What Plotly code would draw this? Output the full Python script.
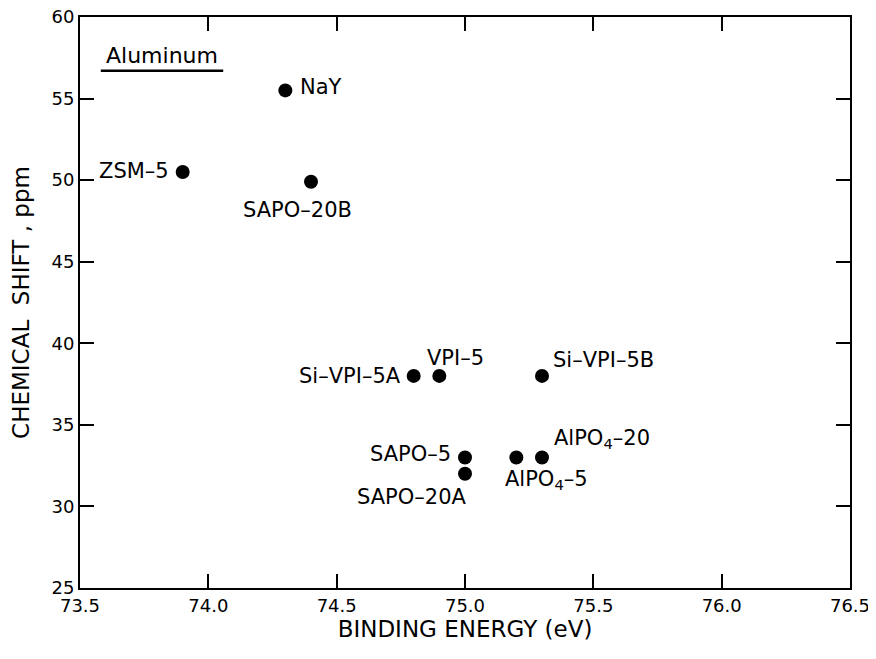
import plotly.graph_objects as go

names = ["NaY", "ZSM\u20135", "SAPO\u201320B", "Si\u2013VPI\u20135A", "VPI\u20135",
         "Si\u2013VPI\u20135B", "SAPO\u20135", "SAPO\u201320A",
         "AlPO<sub>4</sub>\u20135", "AlPO<sub>4</sub>\u201320"]
binding_energy = [74.3, 73.9, 74.4, 74.8, 74.9, 75.3, 75.0, 75.0, 75.2, 75.3]
chemical_shift = [55.5, 50.5, 49.9, 38.0, 38.0, 38.0, 33.0, 32.0, 33.0, 33.0]

# label placement (pixel offsets relative to the point)
label_anchor = ["left", "right", "center", "right", "center", "left",
                "right", "right", "left", "left"]
label_dx = [13, -12, -14, -11, 16, 9, -12, 4, -13, 10]
label_dy = [3, 1, -28, 0, 18, 16, 3, -23, -23, 18]

x_ticks = [73.5, 74.0, 74.5, 75.0, 75.5, 76.0, 76.5]
y_ticks = [25, 30, 35, 40, 45, 50, 55, 60]

FONT = "DejaVu Sans, Verdana, sans-serif"

fig = go.Figure()
fig.add_trace(go.Scatter(
    x=binding_energy, y=chemical_shift, mode="markers",
    marker=dict(size=14, color="black"),
    hoverinfo="skip", showlegend=False,
))

for n, xv, yv, a, dx, dy in zip(names, binding_energy, chemical_shift,
                                 label_anchor, label_dx, label_dy):
    fig.add_annotation(x=xv, y=yv, text=n, showarrow=False,
                       xanchor=a, yanchor="middle", xshift=dx, yshift=dy,
                       font=dict(family=FONT, size=21, color="black"))

fig.add_annotation(x=0.106, y=0.932, xref="paper", yref="paper",
                   text="Aluminum", showarrow=False,
                   xanchor="center", yanchor="middle",
                   font=dict(family=FONT, size=22, color="black"))
fig.add_shape(type="line", xref="paper", yref="paper",
              x0=0.027, x1=0.186, y0=0.906, y1=0.906,
              line=dict(color="black", width=2.5))

axis_common = dict(
    showgrid=False, zeroline=False, showline=True, linecolor="black",
    linewidth=2, mirror="ticks", ticks="inside", ticklen=14, tickwidth=2,
    tickcolor="black", tickfont=dict(family=FONT, size=18, color="black"),
    automargin=False, ticklabeloverflow="allow",
)

fig.update_xaxes(range=[73.5, 76.5], tickvals=x_ticks,
                 ticktext=[f"{v:.1f}" for v in x_ticks],
                 title=dict(text="BINDING ENERGY (eV)", standoff=4,
                            font=dict(family=FONT, size=23, color="black")),
                 **axis_common)
fig.update_yaxes(range=[25, 60], tickvals=y_ticks,
                 ticktext=[str(v) for v in y_ticks],
                 title=dict(text="CHEMICAL\u00a0\u00a0SHIFT\u00a0, ppm",
                            font=dict(family=FONT, size=23, color="black")),
                 **axis_common)

fig.update_layout(
    width=868, height=651,
    margin=dict(l=72, r=26, t=9, b=71),
    plot_bgcolor="white", paper_bgcolor="white",
)

fig.write_html("out.html")
